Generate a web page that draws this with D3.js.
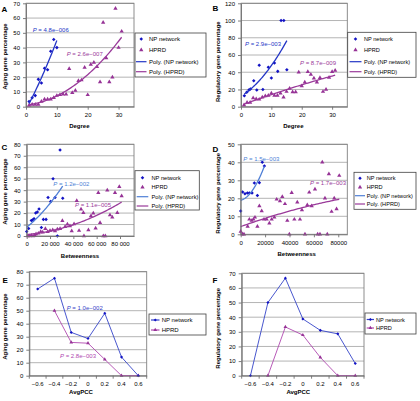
<!DOCTYPE html>
<html><head><meta charset="utf-8">
<script src="https://cdn.jsdelivr.net/npm/d3@7"></script>
<style>
body{margin:0;background:#fff;}
svg{display:block;font-family:"Liberation Sans",Arial,sans-serif;}
</style></head><body>
<svg id="c" width="420" height="401"></svg>
<script>
// ---------- DATA ----------
// Panel A: Degree vs Aging gene percentage
const aNpDegree = [1,2,3,4,5,6,7,8,9,10];
const aNpPct    = [3.5,6,7.5,18.5,16,26,25,37.5,45.5,40];
const aHpDegree = [1,2,3,4,5,6,7,8,9,10,11,12,13,14,15,16,17,18,19,20,21,22,23,24,25,26,27,28,29,30,31];
const aHpPct    = [1,1.5,1.5,1.5,3.5,5,5,5,6,7.5,8,8.5,8.5,25.7,9.5,11,17.5,18,26.5,8,28.5,30,27,16.7,57,33,16.7,20,66.5,40,51];
// Panel B: Degree vs Regulatory gene percentage
const bNpDegree = [1.1,1.9,2.6,3.1,4.2,5.2,6,7.2,9,10,11,12.1,13.2,14.1,15.1];
const bNpPct    = [12.8,16.7,19.4,20.5,30.2,19.4,48,20,45.7,33.3,50.7,41,100,100,43];
const bHpDegree = [1,2,3,4,5,6,7,8,9,10,11,12,13,14,15,16,17,18,19,20,21,22,23,24,25,26,27,28,29,30,31];
const bHpPct    = [2,5,5,10,9,8.5,11,12.5,13,15.5,13,13,15.5,11,17.5,21,17,17,40,24,28.5,40.5,37.5,33,28.5,33.5,17.5,20,34,40.5,42];
// Panel C: Betweenness vs Aging gene percentage
const cNpBetw = [0,1700,4000,5100,6300,7700,9100,10600,12600,14300,16600,18300,20600,22600,24300,26300,28600,30900];
const cNpPct  = [4,6.5,13.5,14,15,20,21,23.5,7.5,14.5,14.5,33.5,30,50,33.5,0,75,33];
const cHpBetw = [1000,2500,4000,5500,7000,8000,10000,12000,13700,16000,18000,20000,22300,24300,26300,28600,30600,32900,34900,37100,38600,40600,42900,44900,46600,48600,49100,52900,55100,57100,59100,61400,62900,65700,67400,69100,71400,73400,75700,77700,79400,81400];
const cHpPct  = [0,0,0.5,0,0.5,1.7,2.3,3.8,3.2,6.4,3.8,4.7,5.2,4.4,5.8,6.4,13.4,8.1,10.2,8.7,4.4,10.5,30.8,4.7,23.3,20.3,0,5.2,17.4,19.8,6.7,37.8,11.6,0,0,40,18.3,16.3,37.8,20.3,43,34.9];
// Panel D: Betweenness vs Regulatory gene percentage
const dNpBetw = [0,1600,3500,5500,7100,9300,11200,13700,15300,17700,19400];
const dNpPct  = [13,23.5,22.5,23,23,23,28.5,21.5,28.7,40,38];
const dHpBetw = [0,1400,2700,5700,7100,9000,10400,11700,13700,15300,17200,19100,21300,23500,25400,27600,29500,32200,34100,36300,38200,39900,41800,44000,46400,48600,50200,52700,54600,56200,58200,60900,63100,65000,66900,69100,71000,72300,74500,76700,78600,80800];
const dHpPct  = [1.5,0,0,4.3,8.3,7.6,8.3,9.4,4.3,15.7,13,8.3,8.3,6.1,8.3,9.4,19.4,18.5,20.9,16.9,7.6,0,23.1,8.3,17.8,8.3,13.5,0,16.3,23.3,15.7,25,0,0,40,20,0,33.5,12.6,20,14,32.6];
// Panels E, F: AvgPCC categories
const pccCats = ["\u22120.6","\u22120.4","\u22120.2","0","0.2","0.4","0.6"];
const eNpPct  = [66.7,75,33.3,28.6,48,14.3,0];
const eHpPct  = [null,50,25.6,25,12.5,0,0];
const fNpPct  = [0,50,66.7,38.8,31,28.6,8.3];
const fHpPct  = [null,0,33.3,27.8,12.5,0,0];
// tick values
const aYTicks = [0,10,20,30,40,50,60,70];
const bYTicks = [0,20,40,60,80,100,120];
const cYTicks = [0,10,20,30,40,50,60,70,80];
const dYTicks = [0,10,20,30,40,50];
const eYTicks = [0,10,20,30,40,50,60,70,80];
const fYTicks = [0,10,20,30,40,50,60,70];
const degreeTicks = [0,10,20,30];
const betwTicks = [0,20000,40000,60000,80000];

// ---------- STYLE ----------
const BLUE = "#1212c4", BLUE_LINE = "#2436c6", BLUE_LIGHT = "#4f7fd6", PURPLE = "#963296", PURPLE_LINE = "#9a3a9a";
const E_BLUE = "#3444c8", E_PURPLE = "#b048b0";
const svg = d3.select("#c");

function quadFit(xs, ys) {
  const sc = d3.max(xs) || 1;
  const S = [0,0,0,0,0], T = [0,0,0];
  xs.forEach((xv, i) => {
    const x = xv / sc, y = ys[i];
    for (let k = 0; k < 5; k++) S[k] += Math.pow(x, k);
    for (let k = 0; k < 3; k++) T[k] += y * Math.pow(x, k);
  });
  const M = [[S[0],S[1],S[2],T[0]],[S[1],S[2],S[3],T[1]],[S[2],S[3],S[4],T[2]]];
  for (let i = 0; i < 3; i++) {
    for (let j = i + 1; j < 3; j++) {
      const f = M[j][i] / M[i][i];
      for (let k = i; k < 4; k++) M[j][k] -= f * M[i][k];
    }
  }
  const c = [0,0,0];
  for (let i = 2; i >= 0; i--) {
    let s = M[i][3];
    for (let k = i + 1; k < 3; k++) s -= M[i][k] * c[k];
    c[i] = s / M[i][i];
  }
  return x => c[0] + c[1] * (x / sc) + c[2] * (x / sc) * (x / sc);
}

function marker(g, type, x, y, color, size) {
  const s = type === "diamond" ? d3.symbolDiamond2 : d3.symbolTriangle;
  g.append("path").attr("d", d3.symbol(s, size)()).attr("transform", `translate(${x},${y})`).attr("fill", color);
}

function pText(g, txt, x, y, color) {
  const t = g.append("text").attr("x", x).attr("y", y).attr("font-size", 6).attr("fill", color);
  t.append("tspan").attr("font-style", "italic").text("P");
  t.append("tspan").text(" = " + txt);
}

function letter(t, x, y) {
  svg.append("text").attr("x", x).attr("y", y).attr("font-size", 8).attr("font-weight", "bold").text(t);
}

function titles(o) {
  svg.append("text").attr("x", o.xtx).attr("y", o.xty).attr("text-anchor", "middle")
    .attr("font-size", 6).attr("font-weight", "bold").text(o.xTitle);
  svg.append("text").attr("transform", `translate(${o.ytx},${o.yty}) rotate(-90)`).attr("text-anchor", "middle")
    .attr("dominant-baseline", "central").attr("font-size", 6).attr("font-weight", "bold").text(o.yTitle);
}

function frameAndGrid(g, o, y) {
  g.selectAll(".grid").data(o.yTicks.filter(d => d > 0)).join("line")
    .attr("x1", o.x0).attr("x2", o.x1).attr("y1", d => y(d)).attr("y2", d => y(d))
    .attr("stroke", "#b4b4b4").attr("stroke-width", 1);
  g.append("rect").attr("x", o.x0).attr("y", o.y0).attr("width", o.x1 - o.x0).attr("height", o.y1 - o.y0)
    .attr("fill", "none").attr("stroke", "#808080").attr("stroke-width", 0.9);
}

function styleAxis(ax) {
  ax.selectAll("path").attr("stroke", "#707070").attr("stroke-width", 0.9);
  ax.selectAll("line").attr("stroke", "#707070").attr("stroke-width", 0.9);
  ax.selectAll("text").attr("font-size", 6).attr("fill", "#000").attr("font-family", "Liberation Sans, Arial, sans-serif");
}

function legend(o) {
  const L = o.legend;
  const g = svg.append("g");
  g.append("rect").attr("x", L.x).attr("y", L.y).attr("width", L.w).attr("height", L.h)
    .attr("fill", "#fff").attr("stroke", "#404040").attr("stroke-width", 0.8);
  L.rows.forEach((r, i) => {
    const yy = L.rowY[i];
    if (r.line) g.append("line").attr("x1", L.lx0).attr("x2", L.lx1).attr("y1", yy).attr("y2", yy)
      .attr("stroke", r.line).attr("stroke-width", 1.2);
    if (r.marker) marker(g, r.marker, (L.lx0 + L.lx1) / 2, yy, r.color, r.size || 8);
    g.append("text").attr("x", L.tx).attr("y", yy).attr("dominant-baseline", "central")
      .attr("font-size", L.fs).text(r.label);
  });
}

function scatterPanel(o) {
  const x = d3.scaleLinear().domain(o.xDom).range([o.x0, o.x1]);
  const y = d3.scaleLinear().domain(o.yDom).range([o.y1, o.y0]);
  const g = svg.append("g");
  frameAndGrid(g, o, y);
  // points
  o.hpX.forEach((v, i) => marker(g, "triangle", x(v), y(o.hpY[i]), PURPLE, 8));
  o.npX.forEach((v, i) => marker(g, "diamond", x(v), y(o.npY[i]), BLUE, 8));
  // trend lines
  const line = d3.line().x(d => x(d[0])).y(d => y(d[1]));
  [[o.npX, o.npY, o.npLine], [o.hpX, o.hpY, PURPLE_LINE]].forEach(([xs, ys, col]) => {
    const f = quadFit(xs, ys);
    const lo = d3.min(xs), hi = d3.max(xs);
    const pts = d3.range(0, 61).map(k => { const xv = lo + (hi - lo) * k / 60; return [xv, f(xv)]; });
    g.append("path").attr("d", line(pts)).attr("fill", "none").attr("stroke", col).attr("stroke-width", 1.3);
  });
  // axes
  const ax = g.append("g").attr("transform", `translate(0,${o.y1})`)
    .call(d3.axisBottom(x).tickValues(o.xTicks).tickSize(3).tickSizeOuter(0).tickPadding(3).tickFormat(o.xFmt));
  styleAxis(ax);
  const ay = g.append("g").attr("transform", `translate(${o.x0},0)`)
    .call(d3.axisLeft(y).tickValues(o.yTicks).tickSize(3).tickSizeOuter(0).tickPadding(3));
  styleAxis(ay);
  pText(g, o.pNp[0], o.pNp[1], o.pNp[2], o.npLine === BLUE_LIGHT ? BLUE_LIGHT : BLUE_LINE);
  pText(g, o.pHp[0], o.pHp[1], o.pHp[2], PURPLE_LINE);
  titles(o);
  legend(o);
}

function linePanel(o) {
  const xb = d3.scaleBand().domain(pccCats).range([o.x0, o.x1]);
  const xc = d => xb(d) + xb.bandwidth() / 2;
  const y = d3.scaleLinear().domain(o.yDom).range([o.y1, o.y0]);
  const g = svg.append("g");
  frameAndGrid(g, o, y);
  const series = [[o.hp, E_PURPLE, "triangle", PURPLE], [o.np, E_BLUE, "diamond", BLUE]];
  series.forEach(([vals, col, m, mc]) => {
    const pts = pccCats.map((c, i) => [c, vals[i]]);
    const ln = d3.line().defined(d => d[1] !== null).x(d => xc(d[0])).y(d => y(d[1]));
    g.append("path").attr("d", ln(pts)).attr("fill", "none").attr("stroke", col).attr("stroke-width", 0.9);
    pts.filter(d => d[1] !== null).forEach(d => marker(g, m, xc(d[0]), y(d[1]), mc, 6));
  });
  // x axis: labels at category centers, ticks at boundaries
  const ax = g.append("g").attr("transform", `translate(0,${o.y1})`)
    .call(d3.axisBottom(xb).tickSize(0).tickPadding(6));
  styleAxis(ax);
  const bounds = pccCats.map(c => xb(c)).concat([o.x1]);
  ax.selectAll(".bt").data(bounds).join("line").attr("x1", d => d).attr("x2", d => d)
    .attr("y1", 0).attr("y2", 3).attr("stroke", "#707070").attr("stroke-width", 0.9);
  const ay = g.append("g").attr("transform", `translate(${o.x0},0)`)
    .call(d3.axisLeft(y).tickValues(o.yTicks).tickSize(3).tickSizeOuter(0).tickPadding(3));
  styleAxis(ay);
  if (o.pNp) pText(g, o.pNp[0], o.pNp[1], o.pNp[2], E_BLUE);
  if (o.pHp) pText(g, o.pHp[0], o.pHp[1], o.pHp[2], E_PURPLE);
  titles(o);
  legend(o);
}

const fourRows = (npLine) => [
  { marker: "diamond", color: BLUE, label: "NP network" },
  { marker: "triangle", color: PURPLE, label: "HPRD", size: 8 },
  { line: npLine, label: "Poly. (NP network)" },
  { line: PURPLE_LINE, label: "Poly. (HPRD)" }
];
const twoRows = [
  { line: E_BLUE, marker: "diamond", color: BLUE, label: "NP network", size: 6 },
  { line: E_PURPLE, marker: "triangle", color: PURPLE, label: "HPRD", size: 6 }
];

scatterPanel({
  x0: 26, x1: 134, y0: 3.3, y1: 106.7, xDom: [0, 35], yDom: [0, 70],
  xTicks: degreeTicks, yTicks: aYTicks, xFmt: d3.format("d"),
  npX: aNpDegree, npY: aNpPct, hpX: aHpDegree, hpY: aHpPct, npLine: BLUE_LINE,
  pNp: ["4.8e\u2212006", 32.7, 32], pHp: ["2.6e\u2212007", 66.7, 55.5],
  xTitle: "Degree", xtx: 79.3, xty: 128, yTitle: "Aging gene percentage", ytx: 5, yty: 56.7,
  legend: { x: 135, y: 33, w: 71, h: 44, rowY: [39, 50, 61.7, 71.7], lx0: 136, lx1: 146.5, tx: 149, fs: 6,
    rows: fourRows(BLUE_LINE) }
});
scatterPanel({
  x0: 241, x1: 347.3, y0: 3.3, y1: 106.7, xDom: [0, 35], yDom: [0, 120],
  xTicks: degreeTicks, yTicks: bYTicks, xFmt: d3.format("d"),
  npX: bNpDegree, npY: bNpPct, hpX: bHpDegree, hpY: bHpPct, npLine: BLUE_LINE,
  pNp: ["2.9e\u2212003", 245, 45.5], pHp: ["8.7e\u2212009", 300, 64.5],
  xTitle: "Degree", xtx: 293.3, xty: 128, yTitle: "Regulatory gene percentage", ytx: 218.3, yty: 61.7,
  legend: { x: 347.7, y: 32.3, w: 68.3, h: 45, rowY: [39, 50, 61.7, 71.7], lx0: 349.5, lx1: 361.5, tx: 364, fs: 5.6,
    rows: fourRows(BLUE_LINE) }
});
scatterPanel({
  x0: 26.7, x1: 134, y0: 144.3, y1: 236, xDom: [0, 92000], yDom: [0, 80],
  xTicks: betwTicks, yTicks: cYTicks, xFmt: d => d === 0 ? "0" : d3.format(",")(d).replace(",", " "),
  npX: cNpBetw, npY: cNpPct, hpX: cHpBetw, hpY: cHpPct, npLine: BLUE_LIGHT,
  pNp: ["1.2e\u2212002", 53.3, 185.5], pHp: ["1.1e\u2212005", 75, 206.5],
  xTitle: "Betweenness", xtx: 80, xty: 258, yTitle: "Aging gene percentage", ytx: 5, yty: 191.7,
  legend: { x: 135, y: 170.7, w: 64.3, h: 39.3, rowY: [177.7, 187.3, 196.7, 206], lx0: 136.7, lx1: 148.3, tx: 151.5, fs: 5.7,
    rows: fourRows(BLUE_LIGHT) }
});
scatterPanel({
  x0: 240.7, x1: 347.3, y0: 144.3, y1: 234.3, xDom: [0, 87400], yDom: [0, 50],
  xTicks: betwTicks, yTicks: dYTicks, xFmt: d3.format("d"),
  npX: dNpBetw, npY: dNpPct, hpX: dHpBetw, hpY: dHpPct, npLine: BLUE_LIGHT,
  pNp: ["1.5e\u2212003", 243.3, 161], pHp: ["1.7e\u2212003", 310, 184.5],
  xTitle: "Betweenness", xtx: 296.7, xty: 255.5, yTitle: "Regulatory gene percentage", ytx: 218.3, yty: 193.3,
  legend: { x: 354, y: 172.3, w: 62, h: 37, rowY: [178.3, 187.3, 195.7, 204], lx0: 355, lx1: 365, tx: 366.7, fs: 5.6,
    rows: fourRows(BLUE_LIGHT) }
});
linePanel({
  x0: 29.3, x1: 146.7, y0: 271.7, y1: 375.7, yDom: [0, 80], yTicks: eYTicks,
  np: eNpPct, hp: eHpPct,
  pNp: ["1.0e\u2212002", 66.7, 309.5], pHp: ["2.8e\u2212003", 60, 357.5],
  xTitle: "AvgPCC", xtx: 81, xty: 393.7, yTitle: "Aging gene percentage", ytx: 5, yty: 326.7,
  legend: { x: 149, y: 314, w: 57, h: 21, rowY: [320, 330], lx0: 151, lx1: 159.5, tx: 161.7, fs: 6, rows: twoRows }
});
linePanel({
  x0: 241.7, x1: 364, y0: 273.3, y1: 375.7, yDom: [0, 70], yTicks: fYTicks,
  np: fNpPct, hp: fHpPct,
  xTitle: "AvgPCC", xtx: 298.3, xty: 393.7, yTitle: "Regulatory gene percentage", ytx: 218.3, yty: 328.3,
  legend: { x: 365, y: 313, w: 51, h: 21, rowY: [319.5, 328], lx0: 366.7, lx1: 374, tx: 376, fs: 5.6, rows: twoRows }
});

letter("A", 1.5, 11.5);
letter("B", 212.5, 10.5);
letter("C", 1.5, 149.8);
letter("D", 212.5, 151.5);
letter("E", 2.5, 283);
letter("F", 212.5, 283);
</script>
</body></html>
